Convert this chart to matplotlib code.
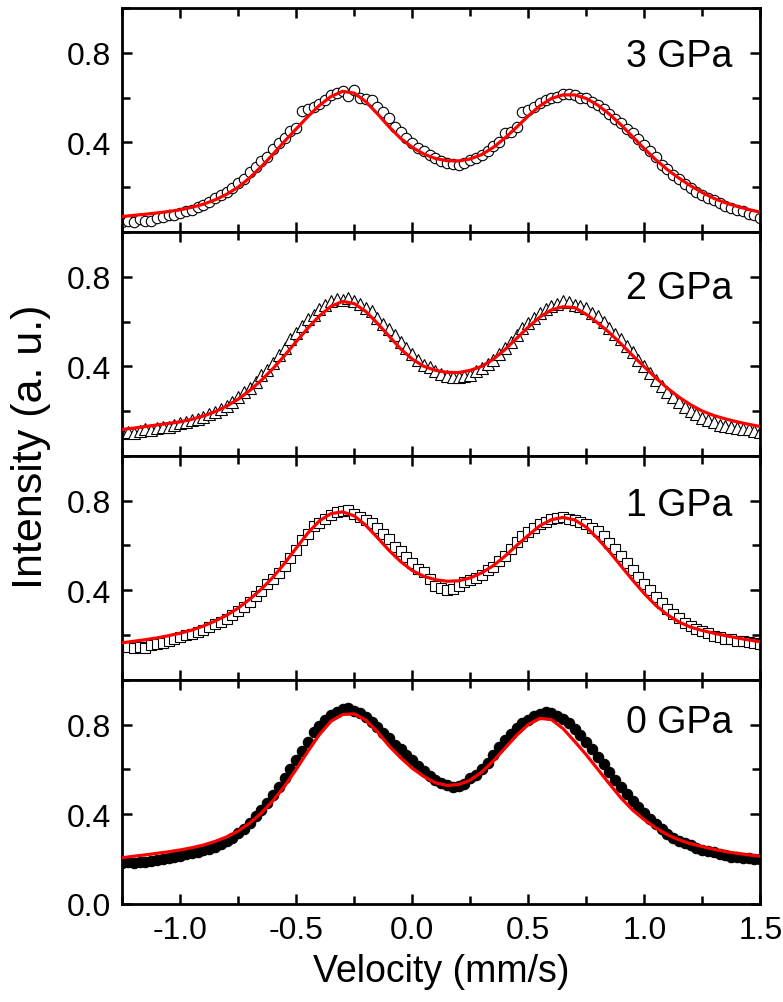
#! /usr/bin/env python3

import numpy as np
import matplotlib
matplotlib.use("Agg")
import matplotlib.pyplot as plt
from matplotlib.ticker import MultipleLocator

# measured spectra, velocity grid -1.25 .. 1.50 mm/s, step 0.025
data_3gpa = [0.045, 0.050, 0.046, 0.058, 0.050, 0.047, 0.064, 0.068, 0.076, 0.074,
             0.084, 0.092, 0.100, 0.110, 0.122, 0.133, 0.152, 0.165, 0.180, 0.196,
             0.218, 0.236, 0.268, 0.292, 0.318, 0.336, 0.372, 0.395, 0.418, 0.450,
             0.462, 0.538, 0.548, 0.558, 0.572, 0.590, 0.612, 0.622, 0.630, 0.606,
             0.632, 0.600, 0.595, 0.588, 0.560, 0.535, 0.510, 0.470, 0.448, 0.420,
             0.395, 0.376, 0.362, 0.345, 0.330, 0.318, 0.310, 0.304, 0.300, 0.306,
             0.322, 0.330, 0.345, 0.362, 0.384, 0.402, 0.440, 0.448, 0.470, 0.535,
             0.545, 0.560, 0.575, 0.590, 0.598, 0.604, 0.615, 0.618, 0.610, 0.600,
             0.598, 0.582, 0.565, 0.550, 0.528, 0.505, 0.485, 0.460, 0.440, 0.415,
             0.388, 0.362, 0.335, 0.300, 0.280, 0.255, 0.238, 0.215, 0.198, 0.180,
             0.165, 0.150, 0.142, 0.130, 0.118, 0.108, 0.100, 0.092, 0.082, 0.075, 0.062]

data_2gpa = [0.100, 0.108, 0.104, 0.112, 0.118, 0.115, 0.125, 0.130, 0.128, 0.138,
             0.145, 0.150, 0.158, 0.165, 0.172, 0.186, 0.195, 0.208, 0.222, 0.240,
             0.265, 0.285, 0.305, 0.330, 0.360, 0.385, 0.415, 0.450, 0.480, 0.520,
             0.548, 0.580, 0.610, 0.630, 0.655, 0.672, 0.690, 0.700, 0.695, 0.705,
             0.690, 0.680, 0.660, 0.645, 0.615, 0.590, 0.565, 0.540, 0.510, 0.480,
             0.455, 0.428, 0.405, 0.395, 0.378, 0.365, 0.358, 0.352, 0.350, 0.355,
             0.360, 0.378, 0.392, 0.410, 0.430, 0.455, 0.480, 0.510, 0.540, 0.570,
             0.595, 0.615, 0.640, 0.655, 0.668, 0.680, 0.690, 0.685, 0.675, 0.670,
             0.660, 0.640, 0.625, 0.598, 0.570, 0.545, 0.520, 0.490, 0.462, 0.430,
             0.400, 0.372, 0.340, 0.312, 0.285, 0.262, 0.240, 0.220, 0.200, 0.185,
             0.170, 0.158, 0.150, 0.140, 0.135, 0.128, 0.125, 0.120, 0.122, 0.110, 0.108]

data_1gpa = [0.150, 0.148, 0.140, 0.145, 0.142, 0.155, 0.160, 0.165, 0.172, 0.180,
             0.190, 0.198, 0.205, 0.212, 0.222, 0.235, 0.250, 0.258, 0.272, 0.290,
             0.305, 0.325, 0.348, 0.375, 0.395, 0.430, 0.450, 0.475, 0.510, 0.545,
             0.580, 0.625, 0.650, 0.685, 0.700, 0.720, 0.735, 0.748, 0.752, 0.760,
             0.742, 0.728, 0.715, 0.700, 0.680, 0.652, 0.630, 0.595, 0.575, 0.550,
             0.520, 0.495, 0.480, 0.448, 0.420, 0.410, 0.400, 0.405, 0.420, 0.435,
             0.445, 0.455, 0.470, 0.490, 0.505, 0.530, 0.555, 0.585, 0.615, 0.640,
             0.658, 0.678, 0.695, 0.705, 0.718, 0.722, 0.725, 0.720, 0.715, 0.705,
             0.695, 0.680, 0.665, 0.640, 0.612, 0.585, 0.555, 0.520, 0.490, 0.460,
             0.430, 0.400, 0.370, 0.345, 0.318, 0.295, 0.275, 0.255, 0.240, 0.228,
             0.220, 0.210, 0.195, 0.190, 0.180, 0.180, 0.175, 0.172, 0.170, 0.165, 0.158]

data_0gpa = [0.180, 0.185, 0.182, 0.188, 0.185, 0.190, 0.196, 0.198, 0.205, 0.210,
             0.215, 0.222, 0.226, 0.232, 0.240, 0.246, 0.255, 0.265, 0.278, 0.292,
             0.315, 0.335, 0.360, 0.390, 0.420, 0.450, 0.485, 0.522, 0.560, 0.600,
             0.640, 0.680, 0.720, 0.765, 0.795, 0.820, 0.842, 0.858, 0.868, 0.872,
             0.862, 0.852, 0.835, 0.812, 0.788, 0.762, 0.738, 0.710, 0.690, 0.665,
             0.640, 0.615, 0.592, 0.570, 0.552, 0.538, 0.528, 0.520, 0.525, 0.535,
             0.560, 0.575, 0.600, 0.630, 0.665, 0.700, 0.730, 0.758, 0.785, 0.805,
             0.822, 0.838, 0.848, 0.855, 0.850, 0.840, 0.825, 0.805, 0.780, 0.752,
             0.722, 0.690, 0.655, 0.622, 0.588, 0.552, 0.520, 0.488, 0.460, 0.432,
             0.405, 0.380, 0.355, 0.335, 0.312, 0.295, 0.280, 0.270, 0.260, 0.250,
             0.242, 0.235, 0.230, 0.222, 0.218, 0.210, 0.208, 0.205, 0.202, 0.200, 0.198]

# fitted curves, velocity grid -1.25 .. 1.50 mm/s, step 0.05
fit_3gpa = [0.069, 0.074, 0.079, 0.085, 0.091, 0.099, 0.110, 0.124, 0.143, 0.168,
            0.200, 0.242, 0.292, 0.347, 0.405, 0.460, 0.515, 0.565, 0.605, 0.628,
            0.620, 0.582, 0.528, 0.470, 0.418, 0.378, 0.348, 0.328, 0.318, 0.317,
            0.326, 0.346, 0.378, 0.420, 0.468, 0.518, 0.563, 0.596, 0.612, 0.612,
            0.596, 0.566, 0.526, 0.478, 0.425, 0.372, 0.322, 0.278, 0.240, 0.206,
            0.176, 0.150, 0.130, 0.114, 0.100, 0.088]

fit_2gpa = [0.118, 0.124, 0.131, 0.138, 0.145, 0.152, 0.163, 0.178, 0.197, 0.222,
            0.253, 0.292, 0.338, 0.390, 0.448, 0.510, 0.570, 0.625, 0.668, 0.690,
            0.680, 0.645, 0.592, 0.535, 0.478, 0.432, 0.400, 0.382, 0.373, 0.372,
            0.382, 0.400, 0.432, 0.475, 0.525, 0.575, 0.620, 0.652, 0.666, 0.662,
            0.632, 0.593, 0.550, 0.500, 0.448, 0.398, 0.348, 0.302, 0.262, 0.228,
            0.200, 0.180, 0.165, 0.152, 0.141, 0.131]

fit_1gpa = [0.165, 0.172, 0.179, 0.187, 0.197, 0.208, 0.222, 0.240, 0.262, 0.288,
            0.320, 0.360, 0.405, 0.458, 0.520, 0.588, 0.655, 0.710, 0.742, 0.750,
            0.732, 0.690, 0.635, 0.578, 0.528, 0.488, 0.462, 0.447, 0.440, 0.442,
            0.455, 0.478, 0.510, 0.552, 0.600, 0.645, 0.688, 0.715, 0.725, 0.714,
            0.682, 0.630, 0.572, 0.508, 0.445, 0.385, 0.332, 0.290, 0.258, 0.235,
            0.220, 0.208, 0.197, 0.187, 0.178, 0.170]

fit_0gpa = [0.205, 0.212, 0.218, 0.225, 0.232, 0.240, 0.250, 0.262, 0.278, 0.298,
            0.325, 0.360, 0.405, 0.460, 0.525, 0.600, 0.680, 0.755, 0.815, 0.845,
            0.848, 0.820, 0.768, 0.705, 0.652, 0.605, 0.568, 0.540, 0.528, 0.532,
            0.552, 0.588, 0.638, 0.695, 0.752, 0.800, 0.828, 0.822, 0.782, 0.725,
            0.665, 0.600, 0.535, 0.472, 0.418, 0.375, 0.338, 0.308, 0.285, 0.268,
            0.255, 0.243, 0.233, 0.225, 0.218, 0.212]

labels = ["3 GPa", "2 GPa", "1 GPa", "0 GPa"]
x_ticks = [-1.0, -0.5, 0.0, 0.5, 1.0, 1.5]


if __name__ == "__main__":
    plt.rcParams["font.family"] = ["Liberation Sans", "DejaVu Sans"]
    plt.rcParams["axes.unicode_minus"] = False

    datasets = [data_3gpa, data_2gpa, data_1gpa, data_0gpa]
    fits = [fit_3gpa, fit_2gpa, fit_1gpa, fit_0gpa]
    markers = [
        dict(marker="o", ms=7.5, mfc="white", mec="black", mew=0.8),
        dict(marker="^", ms=8.0, mfc="white", mec="black", mew=0.8),
        dict(marker="s", ms=7.0, mfc="white", mec="black", mew=0.8),
        dict(marker="o", ms=7.5, mfc="black", mec="black", mew=0.8),
    ]
    label_y = [0.785, 0.75, 0.78, 0.81]

    fig, axes = plt.subplots(4, 1, sharex=True, figsize=(7.83, 10.03), dpi=100)
    fig.subplots_adjust(left=0.156, right=0.971, top=0.991, bottom=0.098, hspace=0)

    for i, ax in enumerate(axes):
        d = datasets[i]
        f = fits[i]
        vd = np.linspace(-1.25, 1.5, len(d))
        vf = np.linspace(-1.25, 1.5, len(f))
        ax.plot(vd, d, ls="none", zorder=2, clip_on=True, **markers[i])
        ax.plot(vf, f, color="red", lw=2.3, zorder=3)

        ax.set_xlim(-1.25, 1.5)
        ax.set_ylim(0.0, 1.0)
        ax.set_xticks(x_ticks)
        ax.xaxis.set_minor_locator(MultipleLocator(0.25))
        ax.set_yticks([0.0, 0.4, 0.8])
        ax.yaxis.set_minor_locator(MultipleLocator(0.2))
        if i < 3:
            ax.set_yticklabels(["", "0.4", "0.8"])
        else:
            ax.set_yticklabels(["0.0", "0.4", "0.8"])

        ax.tick_params(which="both", direction="in", top=True, right=True,
                       width=1.8, labelsize=23, pad=8)
        ax.tick_params(which="major", length=7)
        ax.tick_params(which="minor", length=6)
        for s in ax.spines.values():
            s.set_linewidth(2.0)

        ax.text(0.956, label_y[i], labels[i], transform=ax.transAxes,
                ha="right", va="center", fontsize=27)

    axes[-1].set_xlabel("Velocity (mm/s)", fontsize=27, labelpad=6)
    fig.text(0.040, 0.555, "Intensity (a. u.)", rotation=90, fontsize=31,
             ha="center", va="center")

    fig.savefig("out.png", dpi=100)
